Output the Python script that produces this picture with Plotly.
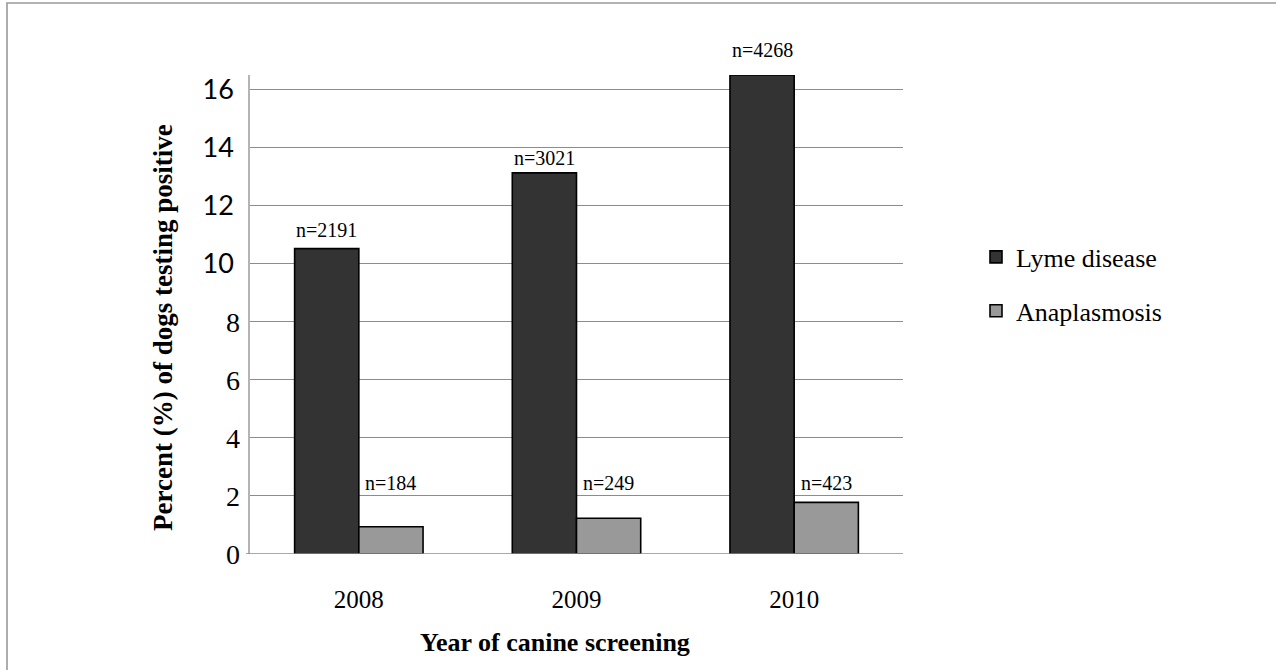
import plotly.graph_objects as go

# Canine screening results by year
years = ["2008", "2009", "2010"]
lyme_pct = [10.52, 13.13, 16.5]
anaplasma_pct = [0.94, 1.23, 1.78]
lyme_n = ["n=2191", "n=3021", "n=4268"]
anaplasma_n = ["n=184", "n=249", "n=423"]
y_ticks_low = [0, 2, 4, 6, 8]
y_ticks_high = [10, 12, 14, 16]
y_max = 16.5

# plot-area geometry in pixels (used to place free text)
W, H = 1276, 670
L, R, T, B = 250, 903, 75, 554


def px(x):
    return (x - L) / (R - L)


def py(y):
    return (B - y) / (B - T)


SERIF = "Liberation Serif"
SANS = "Lato"

fig = go.Figure()
fig.add_trace(go.Bar(
    x=years, y=lyme_pct, name="Lyme disease", legendgroup="a",
    marker=dict(color="#333333", line=dict(color="#000000", width=1.6)),
))
fig.add_trace(go.Bar(
    x=years, y=anaplasma_pct, name="Anaplasmosis", legendgroup="b",
    marker=dict(color="#999999", line=dict(color="#000000", width=1.6)),
))
# empty trace so the overlaid label axis gets drawn
fig.add_trace(go.Scatter(x=[], y=[], yaxis="y2", showlegend=False, hoverinfo="skip"))

annotations = []
# count labels above the Lyme bars (small per-bar lift in px); x is the category index
lyme_lift = [6, 2, 12]
for i, (v, t, lift) in enumerate(zip(lyme_pct, lyme_n, lyme_lift)):
    annotations.append(dict(x=i, y=v, xref="x", yref="y", text=t, showarrow=False,
                            xshift=-32, yshift=lift, yanchor="bottom",
                            font=dict(family=SERIF, size=20, color="#000")))
# count labels for anaplasmosis sit on a common level
for i, t in enumerate(anaplasma_n):
    annotations.append(dict(x=i, y=py(483), xref="x", yref="paper", text=t, showarrow=False,
                            xshift=32, yanchor="middle",
                            font=dict(family=SERIF, size=20, color="#000")))

annotations.append(dict(x=px(163), y=py(328), xref="paper", yref="paper",
                        text="<b>Percent (%) of dogs testing positive</b>", textangle=-90,
                        showarrow=False, xanchor="center", yanchor="middle",
                        font=dict(family=SERIF, size=27, color="#000")))
annotations.append(dict(x=px(555), y=py(642), xref="paper", yref="paper",
                        text="<b>Year of canine screening</b>",
                        showarrow=False, xanchor="center", yanchor="middle",
                        font=dict(family=SERIF, size=26, color="#000")))

# outer frame around the figure
frame = dict(type="path", xref="paper", yref="paper",
             path=f"M {px(7)} {py(700)} L {px(7)} {py(3)} L {px(1290)} {py(3)}",
             line=dict(color="#999999", width=1.6))
# zero line reaching slightly past the value axis
zero = dict(type="line", xref="paper", yref="y", x0=px(246), x1=1, y0=0, y1=0,
            line=dict(color="#8c8c8c", width=1.3), layer="above")

fig.update_layout(
    width=W, height=H,
    margin=dict(l=L, r=W - R, t=T, b=H - B, pad=0),
    paper_bgcolor="white", plot_bgcolor="white",
    barmode="group", bargap=0.41, bargroupgap=0,
    font=dict(family=SERIF, color="#000"),
    showlegend=True,
    legend=dict(x=px(976), y=py(284), xanchor="left", yanchor="middle",
                traceorder="grouped", tracegroupgap=17,
                font=dict(family=SERIF, size=26, color="#000"),
                bgcolor="rgba(0,0,0,0)", borderwidth=0),
    xaxis=dict(type="category", range=[-0.5, 2.5], showgrid=False, showline=False,
               ticks="", zeroline=False,
               tickfont=dict(family=SERIF, size=25, color="#000"),
               ticklabelstandoff=28),
    # upper value labels (sans) with gridlines and axis line
    yaxis=dict(range=[0, y_max], tickvals=[0] + y_ticks_low + y_ticks_high,
               ticktext=[""] * (1 + len(y_ticks_low)) + [str(v) for v in y_ticks_high],
               showgrid=True, gridcolor="#8c8c8c", gridwidth=1.2,
               showline=True, linecolor="#b4b4b4", linewidth=1.6,
               zeroline=False, ticks="",
               tickfont=dict(family=SANS, size=27, color="#000"),
               ticklabelstandoff=9),
    # lower value labels (serif) on an overlaid axis sharing the same scale
    yaxis2=dict(overlaying="y", side="left", range=[0, y_max], tickvals=y_ticks_low,
                ticktext=[str(v) for v in y_ticks_low],
                showgrid=False, showline=False, zeroline=False, ticks="",
                tickfont=dict(family=SERIF, size=28, color="#000"),
                ticklabelstandoff=9),
    annotations=annotations,
    shapes=[frame, zero],
)

fig.write_html("out.html")
